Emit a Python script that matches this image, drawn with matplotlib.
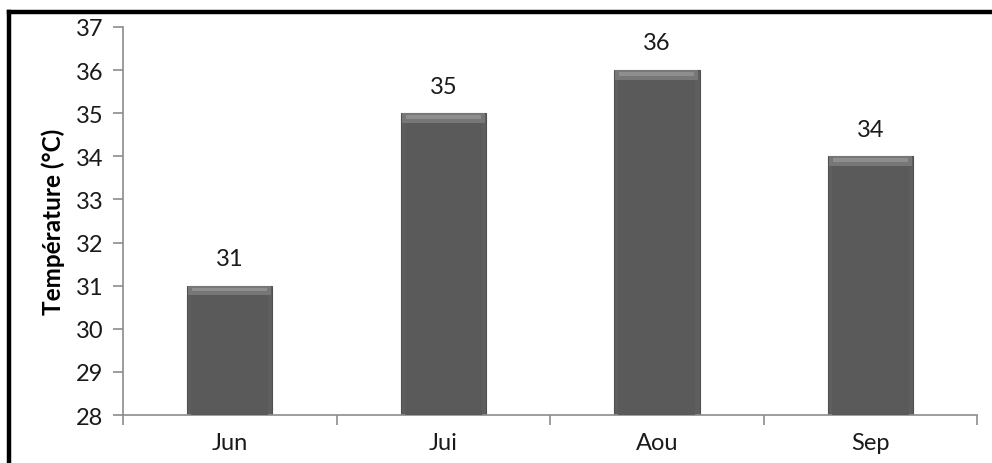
import matplotlib
matplotlib.use("Agg")
import matplotlib.pyplot as plt
from matplotlib.lines import Line2D
import numpy as np

months = ["Jun", "Jui", "Aou", "Sep"]
temperatures = [31, 35, 36, 34]
y_ticks = [28, 29, 30, 31, 32, 33, 34, 35, 36, 37]

plt.rcParams["font.family"] = ["Lato", "DejaVu Sans"]

fig = plt.figure(figsize=(9.92, 4.64), dpi=100)
ax = fig.add_axes([0.124, 0.1034, 0.861, 0.8363])

x = np.arange(len(months))
width = 0.4
axis_grey = "#8c8c8c"
fs = 17

# main bars
ax.bar(x, [t - y_ticks[0] for t in temperatures], bottom=y_ticks[0], width=width,
       color="#5e5e5e", edgecolor="#505050", linewidth=0.8, zorder=2)
# slightly darker body with lighter side strips, and a bevel along the top edge
ax.bar(x, [t - y_ticks[0] - 0.22 for t in temperatures], bottom=y_ticks[0], width=width * 0.9,
       color="#5a5a5a", linewidth=0, zorder=3)
ax.bar(x, [0.22] * len(x), bottom=[t - 0.22 for t in temperatures], width=width * 0.97,
       color="#777777", linewidth=0, zorder=3)
ax.bar(x, [0.08] * len(x), bottom=[t - 0.13 for t in temperatures], width=width * 0.88,
       color="#8e8e8e", linewidth=0, zorder=4)

for xi, t in zip(x, temperatures):
    ax.annotate(f"{t}", (xi, t), xytext=(0, 12), textcoords="offset points",
                ha="center", va="bottom", fontsize=fs, color="#1a1a1a")

ax.set_ylim(y_ticks[0], y_ticks[-1])
ax.set_xlim(-0.5, len(months) - 0.5)
ax.set_yticks(y_ticks)
ax.set_yticklabels([str(v) for v in y_ticks], fontsize=fs, color="#1a1a1a")

boundaries = np.arange(len(months) + 1) - 0.5
ax.set_xticks(boundaries)
ax.set_xticklabels([""] * len(boundaries))
ax.set_xticks(x, minor=True)
ax.set_xticklabels(months, minor=True, fontsize=fs, color="#1a1a1a")
ax.tick_params(axis="x", which="major", length=7, width=1.2, color=axis_grey, direction="out")
ax.tick_params(axis="x", which="minor", length=0, pad=12)
ax.tick_params(axis="y", length=7, width=1.2, color=axis_grey, direction="out", pad=7)

for side in ("top", "right"):
    ax.spines[side].set_visible(False)
for side in ("left", "bottom"):
    ax.spines[side].set_color(axis_grey)
    ax.spines[side].set_linewidth(1.2)

ax.set_ylabel("Température (°C)", fontsize=17.5, fontweight="bold", color="#000000", labelpad=8)

# outer frame lines along the top and left edges
fig.add_artist(Line2D([0.0095, 1.0], [1 - 13 / 464, 1 - 13 / 464], color="black", lw=3.2,
                      transform=fig.transFigure, solid_capstyle="projecting"))
fig.add_artist(Line2D([0.0095, 0.0095], [0.0, 1 - 13 / 464], color="black", lw=3.2,
                      transform=fig.transFigure, solid_capstyle="projecting"))

fig.savefig("out.png", dpi=100, facecolor="white")
